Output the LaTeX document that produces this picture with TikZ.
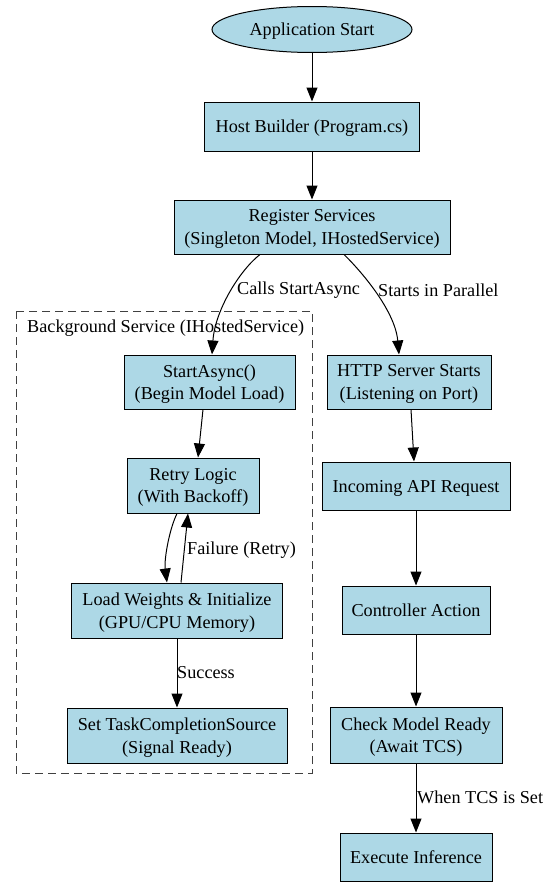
\documentclass[tikz,border=0pt]{standalone}
\usepackage{fontspec}
\setmainfont{Liberation Serif}
\usetikzlibrary{arrows.meta,shapes.geometric,calc}
\definecolor{gvblue}{HTML}{ADD8E6}
\newcommand{\gvfont}{\fontsize{18.2}{22.5}\selectfont}
\begin{document}
\begin{tikzpicture}[x=1pt,y=-1pt,
  box/.style={draw=black,fill=gvblue,line width=1pt,inner sep=0pt,align=center,font=\gvfont,text depth=0pt},
  oval/.style={ellipse,draw=black,fill=gvblue,line width=1pt,inner sep=0pt,align=center,font=\gvfont,text depth=0pt},
  edge/.style={draw=black,line width=1pt,-{Triangle[length=14pt,width=11pt]}},
  elabel/.style={anchor=west,inner sep=0pt,font=\gvfont},
  cluster/.style={draw=black!75,line width=1pt,dash pattern=on 8pt off 5pt}
]
\useasboundingbox (0,0) rectangle (547,886);

% cluster
\draw[cluster] (16,311) rectangle (312,773);
\node[elabel] (clab) at (27,328) {Background Service (IHostedService)};

% nodes
\node[oval,minimum width=200pt,minimum height=46pt] (start) at (312,29.5) {Application Start};
\node[box,minimum width=215pt,minimum height=49pt] (host) at (312,126.5) {Host Builder (Program.cs)};
\node[box,minimum width=276pt,minimum height=54pt] (reg) at (312,227) {Register Services\\(Singleton Model, IHostedService)};
\node[box,minimum width=171pt,minimum height=54pt] (sa) at (209.5,382) {StartAsync()\\(Begin Model Load)};
\node[box,minimum width=164pt,minimum height=54pt] (http) at (409,382) {HTTP Server Starts\\(Listening on Port)};
\node[box,minimum width=132pt,minimum height=55pt] (retry) at (193,485.5) {Retry Logic\\(With Backoff)};
\node[box,minimum width=188pt,minimum height=48pt] (inc) at (416,486) {Incoming API Request};
\node[box,minimum width=211pt,minimum height=55pt] (load) at (177,610.5) {Load Weights \& Initialize\\(GPU/CPU Memory)};
\node[box,minimum width=148pt,minimum height=48pt] (ctrl) at (416,610) {Controller Action};
\node[box,minimum width=220pt,minimum height=55pt] (tcs) at (177,735.5) {Set TaskCompletionSource\\(Signal Ready)};
\node[box,minimum width=172pt,minimum height=56pt] (check) at (416,735) {Check Model Ready\\(Await TCS)};
\node[box,minimum width=152pt,minimum height=48pt] (exec) at (416,857) {Execute Inference};

% edges
\draw[edge] (start) -- (host);
\draw[edge] (host) -- (reg);
\draw[edge] ([xshift=-52pt]reg.south) .. controls (240,270) and (215,310) .. ([xshift=2.5pt]sa.north);
\draw[edge] ([xshift=32pt]reg.south) .. controls (360,270) and (395,310) .. ([xshift=-10pt]http.north);
\node[elabel] (l1) at (237,290) {Calls StartAsync};
\node[elabel] (l2) at (378,290) {Starts in Parallel};
\draw[edge] ([xshift=-6.5pt]sa.south) -- ([xshift=5pt]retry.north);
\draw[edge] ([xshift=2pt]http.south) -- ([xshift=-2pt]inc.north);
\draw[edge] ([xshift=-16pt]retry.south) .. controls (169,530) and (164,560) .. ([xshift=-10pt]load.north);
\draw[edge] ([xshift=4pt]load.north) -- ([xshift=-5pt]retry.south);
\node[elabel] (l3) at (187,550) {Failure (Retry)};
\draw[edge] (load) -- (tcs);
\node[elabel] (l4) at (177,673) {Success};
\draw[edge] (inc) -- (ctrl);
\draw[edge] (ctrl) -- (check);
\draw[edge] (check) -- (exec);
\node[elabel] (l5) at (417,797) {When TCS is Set};
\end{tikzpicture}
\end{document}
